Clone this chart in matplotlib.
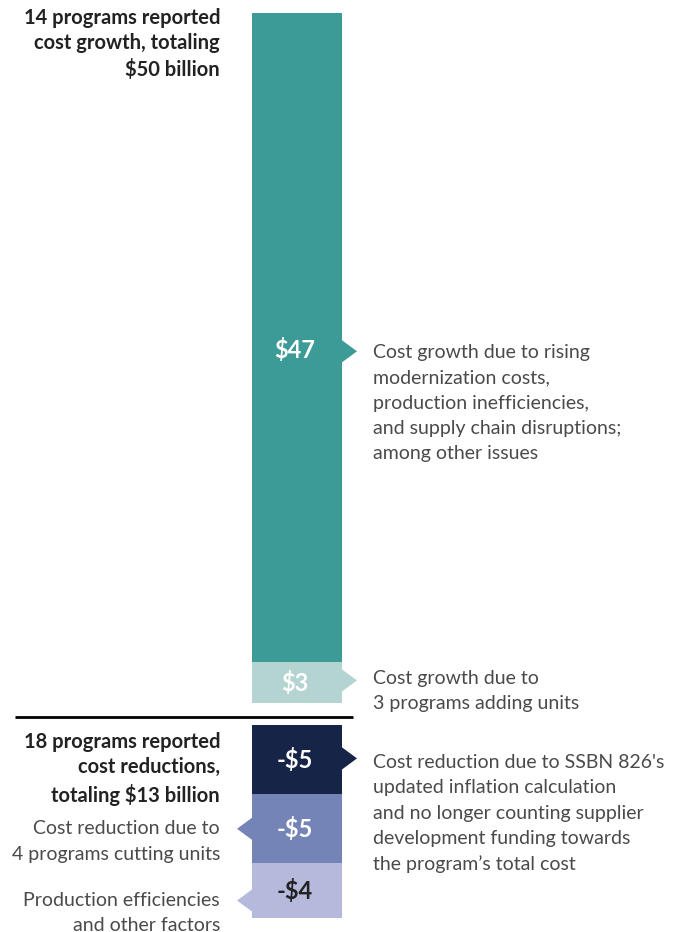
import matplotlib
matplotlib.use("Agg")
import matplotlib.pyplot as plt
from matplotlib.patches import Polygon

# ---- data (billions of dollars) -------------------------------------------
growth_labels = ["$3", "$47"]
growth_values = [3, 47]
growth_colors = ["#b4d4d1", "#3d9b97"]

cut_labels = ["-$5", "-$5", "-$4"]
cut_values = [5, 5, 4]
cut_colors = ["#152447", "#7584b6", "#b5badc"]
cut_label_colors = ["white", "white", "#222222"]

growth_notes = [
    "Cost growth due to\n3 programs adding units",
    "Cost growth due to rising\nmodernization costs,\nproduction inefficiencies,\n"
    "and supply chain disruptions;\namong other issues",
]
cut_notes = [
    "Cost reduction due to SSBN 826's\nupdated inflation calculation\n"
    "and no longer counting supplier\ndevelopment funding towards\nthe program\u2019s total cost",
    "Cost reduction due to\n4 programs cutting units",
    "Production efficiencies\nand other factors",
]
cut_note_side = ["right", "left", "left"]

header_growth = "14 programs reported\ncost growth, totaling\n$50 billion"
header_cut = "18 programs reported\ncost reductions,\ntotaling $13 billion"

# ---- layout ----------------------------------------------------------------
FONT = ["Lato", "DejaVu Sans"]
W, H = 673, 932
PX = 13.8            # pixels per billion
ZERO_PX = 717        # zero line position, px from top
GAP_UP, GAP_DN = 1.0, 0.6
BAR_X, BAR_W = 297, 90
TRI_W, TRI_H = 15, 0.8
NOTE_TOP = 0.6       # note top above arrow centre (billions)

fig = plt.figure(figsize=(W / 100, H / 100), dpi=100)
ax = fig.add_axes([0, 0, 1, 1])
ax.set_xlim(0, W)
ax.set_ylim(-(H - ZERO_PX) / PX, ZERO_PX / PX)
ax.axis("off")

left_edge = BAR_X - BAR_W / 2
right_edge = BAR_X + BAR_W / 2


def arrow(side, yc, color):
    if side == "right":
        pts = [(right_edge, yc + TRI_H), (right_edge + TRI_W, yc), (right_edge, yc - TRI_H)]
    else:
        pts = [(left_edge, yc + TRI_H), (left_edge - TRI_W, yc), (left_edge, yc - TRI_H)]
    ax.add_patch(Polygon(pts, closed=True, color=color, lw=0))


note_kw = dict(fontsize=14, color="#4a4a4a", family=FONT, weight="normal",
               linespacing=1.58)
head_kw = dict(fontsize=14.5, color="#222222", family=FONT, weight="bold",
               linespacing=1.34, ha="right")

# positive stack
bottom = GAP_UP
label_shift = [0, -0.9]
note_dy = [0.3, -0.2]
for lab, val, col, note, shift, dy in zip(growth_labels, growth_values, growth_colors,
                                          growth_notes, label_shift, note_dy):
    ax.bar(BAR_X, val, width=BAR_W, bottom=bottom, color=col, lw=0)
    yc = bottom + val / 2 + shift
    ax.text(BAR_X - 2, yc, lab, ha="center", va="center", color="white",
            fontsize=17, weight="bold", family=FONT)
    arrow("right", yc + dy / 2, col)
    ax.text(373, yc + dy + NOTE_TOP, note, ha="left", va="top", **note_kw)
    bottom += val

# negative stack
top = -GAP_DN
cut_shift = [0.1, 0, -0.7]
cut_dy = [-0.2, 0, 0]
for lab, val, col, lcol, note, side, shift, dy in zip(cut_labels, cut_values, cut_colors,
                                                      cut_label_colors, cut_notes,
                                                      cut_note_side, cut_shift, cut_dy):
    ax.bar(BAR_X, -val, width=BAR_W, bottom=top, color=col, lw=0)
    yc = top - val / 2
    ax.text(BAR_X - 2, yc, lab, ha="center", va="center", color=lcol,
            fontsize=17, weight="bold", family=FONT)
    arrow(side, yc + shift, col)
    if side == "right":
        ax.text(373, yc + dy + NOTE_TOP, note, ha="left", va="top", **note_kw)
    else:
        ax.text(220, yc + shift + dy + NOTE_TOP, note, ha="right", va="top", **note_kw)
    top -= val

# zero line
ax.plot([15, 353], [0, 0], color="black", lw=2, solid_capstyle="butt")

# headers
ax.text(220, (ZERO_PX - 8) / PX, header_growth, va="top", **head_kw)
ax.text(220, -(732 - ZERO_PX) / PX, header_cut, va="top", **head_kw)

fig.savefig("out.png", dpi=100)
